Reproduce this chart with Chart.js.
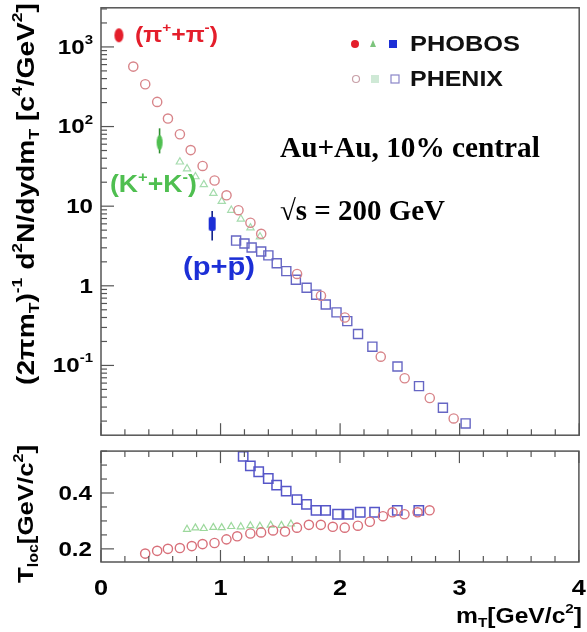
<!DOCTYPE html>
<html><head><meta charset="utf-8">
<script src="https://cdn.jsdelivr.net/npm/chart.js@4.4.0/dist/chart.umd.min.js"></script>
<style>
html,body{margin:0;padding:0;background:#fff;width:587px;height:632px;overflow:hidden}
#c1{position:absolute;left:0;top:0}
#c2{position:absolute;left:0;top:443px}
</style></head><body>
<canvas id="c1" width="587" height="443"></canvas>
<canvas id="c2" width="587" height="189"></canvas>
<script>
// ---------------- DATA ----------------
const xTickValues = [0, 1, 2, 3, 4];
const upperTickValues = [1000, 100, 10, 1, 0.1];
const lowerTickValues = [0.2, 0.4];

// upper panel: (2 pi mT)^-1 d2N/dydmT
const pionPhenixMt    = [0.27,0.37,0.47,0.56,0.66,0.75,0.85,0.95,1.05,1.15,1.25,1.34,1.64,1.84,2.04,2.34,2.54,2.75,2.95];
const pionPhenixYield = [566,340,204,126,80,50.6,32,21,13.7,8.9,6.2,4.5,1.41,0.75,0.40,0.129,0.069,0.039,0.0216];
const kaonPhenixMt    = [0.66,0.72,0.79,0.86,0.94,1.01,1.09,1.17,1.25,1.33];
const kaonPhenixYield = [36,29.5,23.5,18.7,14.5,11.5,8.9,6.9,5.35,4.14];
const protonPhenixMt    = [1.13,1.20,1.26,1.34,1.40,1.47,1.55,1.63,1.72,1.80,1.88,1.97,2.06,2.15,2.27,2.48,2.66,2.86,3.05];
const protonPhenixYield = [3.70,3.40,3.03,2.70,2.41,1.92,1.53,1.19,0.945,0.774,0.582,0.464,0.360,0.248,0.172,0.097,0.055,0.0294,0.0187];

const phobosMt      = [0.15, 0.49, 0.93];      // pi, K, p
const phobosYield   = [1400, 63, 6.0];
const phobosErrLow  = [1250, 46, 3.7];
const phobosErrHigh = [1600, 95, 8.7];

// lower panel: T_loc
const tlocPionMt = [0.37,0.47,0.56,0.66,0.76,0.85,0.95,1.05,1.14,1.25,1.34,1.44,1.54,1.64,1.74,1.84,1.94,2.04,2.15,2.25,2.36,2.44,2.54,2.65,2.75];
const tlocPion   = [0.183,0.193,0.200,0.203,0.210,0.217,0.221,0.234,0.245,0.255,0.259,0.266,0.262,0.276,0.286,0.286,0.279,0.276,0.283,0.297,0.317,0.331,0.324,0.331,0.338];
const tlocKaonMt = [0.72,0.79,0.86,0.94,1.01,1.09,1.17,1.25,1.33,1.42,1.51,1.59];
const tlocKaon   = [0.270,0.275,0.273,0.277,0.276,0.280,0.279,0.283,0.281,0.285,0.284,0.289];
const tlocProtonMt = [1.19,1.25,1.32,1.40,1.47,1.55,1.64,1.72,1.80,1.88,1.98,2.07,2.17,2.29,2.48,2.66];
const tlocProton   = [0.531,0.497,0.476,0.452,0.428,0.407,0.376,0.359,0.338,0.338,0.324,0.324,0.331,0.331,0.338,0.338];

// ---------------- STYLE ----------------
const SANS = '"Liberation Sans", Arial, sans-serif';
const SERIF = '"Liberation Serif", "Times New Roman", serif';
const HS = 1.15;
const C_PI = '#e41e2b', C_K = '#4fbf50', C_P = '#1c2fd6';
const C_PI_O = '#d8858a', C_K_O = '#a6dcae', C_P_O = '#6666c4';
const FRAME = '#555';

const pts = (xs, ys) => xs.map((x, i) => ({x, y: ys[i]}));

function segW(ctx, segs, size, family, weight) {
  let w = 0;
  for (const s of segs) {
    const fs = (s[1] === 'sup' || s[1] === 'sub') ? size * 0.62 : size;
    ctx.font = `${weight} ${fs}px ${family}`;
    w += ctx.measureText(s[0]).width;
  }
  return w;
}
function drawRich(ctx, segs, x, y, o) {
  const size = o.size, family = o.family || SANS, weight = o.weight || 'bold';
  const hs = o.hscale || HS;
  const w = segW(ctx, segs, size, family, weight);
  ctx.save();
  ctx.translate(x, y);
  if (o.rotate) ctx.rotate(o.rotate);
  ctx.scale(hs, 1);
  let cx = o.align === 'right' ? -w : o.align === 'center' ? -w / 2 : 0;
  ctx.fillStyle = o.color || '#000';
  ctx.textBaseline = 'middle';
  ctx.textAlign = 'left';
  for (const s of segs) {
    const small = (s[1] === 'sup' || s[1] === 'sub');
    const fs = small ? size * 0.62 : size;
    const dy = s[1] === 'sup' ? -size * 0.36 : s[1] === 'sub' ? size * 0.3 : 0;
    ctx.font = `${weight} ${fs}px ${family}`;
    ctx.fillText(s[0], cx, dy);
    const sw = ctx.measureText(s[0]).width;
    if (s[1] === 'bar') {
      ctx.fillRect(cx + sw * 0.1, -size * 0.42, sw * 0.8, size * 0.1);
    }
    cx += sw;
  }
  ctx.restore();
  return w * hs;
}
function fit(ctx, segs, base, target, family, weight, hs) {
  const w = segW(ctx, segs, base, family || SANS, weight || 'bold') * (hs || HS);
  return base * target / w;
}
function tickLabelSegs(v) {
  if (v >= 100 || v < 1) return [['10', ''], [String(Math.round(Math.log10(v))), 'sup']];
  return [[String(v), '']];
}
function ellipseImg(w, h, fill) {
  const c = document.createElement('canvas'); c.width = w + 2; c.height = h + 2;
  const g = c.getContext('2d'); g.fillStyle = fill; g.beginPath();
  g.ellipse((w + 2) / 2, (h + 2) / 2, w / 2, h / 2, 0, 0, 2 * Math.PI); g.fill(); return c;
}
function rectImg(w, h, fill) {
  const c = document.createElement('canvas'); c.width = w + 2; c.height = h + 2;
  const g = c.getContext('2d'); g.fillStyle = fill; g.beginPath();
  g.roundRect(1, 1, w, h, 2); g.fill(); return c;
}

function drawXTicks(ctx, xs, yEdge, dir) {
  for (let i = 0; i <= 20; i++) {
    const v = i * 0.2, px = xs.getPixelForValue(v);
    const len = (i % 5 === 0) ? 12 : 6;
    ctx.beginPath(); ctx.moveTo(px, yEdge); ctx.lineTo(px, yEdge + dir * len); ctx.stroke();
  }
}

// ---------------- UPPER CHART ----------------
const upperPlugin = {
  id: 'upperDeco',
  beforeDatasetsDraw(chart) {
    const ctx = chart.ctx, xs = chart.scales.x, ys = chart.scales.y;
    const cols = ['#b01822', '#2f8f30', '#10208a'];
    ctx.save(); ctx.lineWidth = 1.6;
    phobosMt.forEach((m, i) => {
      ctx.strokeStyle = cols[i];
      const px = xs.getPixelForValue(m);
      ctx.beginPath();
      ctx.moveTo(px, ys.getPixelForValue(phobosErrLow[i]));
      ctx.lineTo(px, ys.getPixelForValue(phobosErrHigh[i]));
      ctx.stroke();
    });
    ctx.restore();
  },
  afterDraw(chart) {
    const ctx = chart.ctx, a = chart.chartArea, xs = chart.scales.x, ys = chart.scales.y;
    ctx.save();
    // frame
    ctx.strokeStyle = FRAME; ctx.lineWidth = 1.5;
    ctx.strokeRect(a.left, a.top, a.right - a.left, a.bottom - a.top);
    // log ticks on left
    ctx.lineWidth = 1.2;
    for (let e = -2; e <= 3; e++) {
      for (let m = 1; m <= 9; m++) {
        const v = m * Math.pow(10, e);
        if (v < ys.min || v > ys.max) continue;
        const py = ys.getPixelForValue(v);
        const len = m === 1 ? 13 : 6;
        ctx.beginPath(); ctx.moveTo(a.left, py); ctx.lineTo(a.left + len, py); ctx.stroke();
      }
    }
    drawXTicks(ctx, xs, a.bottom, -1);
    // tick labels
    upperTickValues.forEach(v => {
      drawRich(ctx, tickLabelSegs(v), 93, ys.getPixelForValue(v) + 1, {size: 21, align: 'right'});
    });
    // y title
    const ySegs = [['(2πm', ''], ['T', 'sub'], [')', ''], ['-1', 'sup'], [' d', ''], ['2', 'sup'], ['N/dydm', ''], ['T', 'sub'], [' [c', ''], ['4', 'sup'], ['/GeV', ''], ['2', 'sup'], [']', '']];
    const ts = fit(ctx, ySegs, 20, 382);
    drawRich(ctx, ySegs, 27, 194, {size: ts, align: 'center', rotate: -Math.PI / 2});
    // particle labels
    const piSegs = [['(π', ''], ['+', 'sup'], ['+π', ''], ['-', 'sup'], [')', '']];
    drawRich(ctx, piSegs, 135, 36, {size: fit(ctx, piSegs, 20, 83), color: C_PI});
    const kSegs = [['(K', ''], ['+', 'sup'], ['+K', ''], ['-', 'sup'], [')', '']];
    drawRich(ctx, kSegs, 110, 186, {size: fit(ctx, kSegs, 20, 87), color: C_K});
    const pSegs = [['(p+', ''], ['p', 'bar'], [')', '']];
    drawRich(ctx, pSegs, 183, 268, {size: fit(ctx, pSegs, 20, 72), color: C_P});
    // legend
    ctx.fillStyle = C_PI; ctx.beginPath(); ctx.arc(355, 44, 4, 0, 2 * Math.PI); ctx.fill();
    ctx.fillStyle = '#7cc47c'; ctx.beginPath(); ctx.moveTo(373, 40); ctx.lineTo(376, 47); ctx.lineTo(370, 47); ctx.closePath(); ctx.fill();
    ctx.fillStyle = C_P; ctx.fillRect(389, 40, 8, 8);
    ctx.strokeStyle = '#c8a0a8'; ctx.lineWidth = 1.2; ctx.beginPath(); ctx.arc(356, 79, 3.5, 0, 2 * Math.PI); ctx.stroke();
    ctx.fillStyle = '#cfe9d6'; ctx.fillRect(371, 75, 8, 8);
    ctx.strokeStyle = '#8a86c8'; ctx.strokeRect(391, 75, 8, 8);
    const phobos = [['PHOBOS', '']], phenix = [['PHENIX', '']];
    drawRich(ctx, phobos, 410, 45, {size: fit(ctx, phobos, 20, 110), color: '#111'});
    drawRich(ctx, phenix, 410, 80, {size: fit(ctx, phenix, 20, 93), color: '#111'});
    // annotation
    const au = [['Au+Au, 10% central', '']];
    drawRich(ctx, au, 280, 149, {size: fit(ctx, au, 20, 260, SERIF, 'bold', 1.0), family: SERIF, hscale: 1.0});
    const rs = [['√s = 200 GeV', '']];
    drawRich(ctx, rs, 280, 213, {size: fit(ctx, rs, 20, 165, SERIF, 'bold', 1.0), family: SERIF, hscale: 1.0});
    ctx.restore();
  }
};

new Chart(document.getElementById('c1'), {
  type: 'scatter',
  data: {
    datasets: [
      {label: 'PHENIX pi', data: pts(pionPhenixMt, pionPhenixYield), pointStyle: 'circle', pointRadius: 4.6, borderColor: C_PI_O, backgroundColor: 'rgba(0,0,0,0)', borderWidth: 1.4},
      {label: 'PHENIX K', data: pts(kaonPhenixMt, kaonPhenixYield), pointStyle: 'triangle', pointRadius: 4.2, borderColor: C_K_O, backgroundColor: 'rgba(0,0,0,0)', borderWidth: 1.2},
      {label: 'PHENIX p', data: pts(protonPhenixMt, protonPhenixYield), pointStyle: 'rect', pointRadius: 6.4, borderColor: C_P_O, backgroundColor: 'rgba(0,0,0,0)', borderWidth: 1.4},
      {label: 'PHOBOS pi', data: [{x: phobosMt[0], y: phobosYield[0]}], pointStyle: ellipseImg(9, 14, C_PI)},
      {label: 'PHOBOS K', data: [{x: phobosMt[1], y: phobosYield[1]}], pointStyle: ellipseImg(6, 15, C_K)},
      {label: 'PHOBOS p', data: [{x: phobosMt[2], y: phobosYield[2]}], pointStyle: rectImg(7, 14, C_P)}
    ]
  },
  options: {
    responsive: false, animation: false, devicePixelRatio: 1,
    layout: {padding: {left: 101, right: 4, top: 5, bottom: 2}},
    plugins: {legend: {display: false}, tooltip: {enabled: false}},
    scales: {
      x: {type: 'linear', min: 0, max: 4, display: false},
      y: {type: 'logarithmic', min: 0.0133, max: 3100, display: false}
    }
  },
  plugins: [upperPlugin]
});

// ---------------- LOWER CHART ----------------
const lowerPlugin = {
  id: 'lowerDeco',
  afterDraw(chart) {
    const ctx = chart.ctx, a = chart.chartArea, xs = chart.scales.x, ys = chart.scales.y;
    ctx.save();
    ctx.strokeStyle = FRAME; ctx.lineWidth = 1.5;
    ctx.strokeRect(a.left, a.top, a.right - a.left, a.bottom - a.top);
    ctx.lineWidth = 1.2;
    for (let i = 0; i <= 12; i++) {
      const v = 0.0 + i * 0.05;
      if (v < ys.min || v > ys.max) continue;
      const py = ys.getPixelForValue(v);
      const major = Math.abs(v * 10 % 2) < 1e-6 || Math.abs(v * 10 % 2 - 2) < 1e-6;
      const len = major ? 13 : 6;
      ctx.beginPath(); ctx.moveTo(a.left, py); ctx.lineTo(a.left + len, py); ctx.stroke();
    }
    drawXTicks(ctx, xs, a.bottom, -1);
    drawXTicks(ctx, xs, a.top, 1);
    lowerTickValues.forEach(v => {
      drawRich(ctx, [[v.toFixed(1), '']], 92, ys.getPixelForValue(v) + 1, {size: 21, align: 'right'});
    });
    xTickValues.forEach(v => {
      drawRich(ctx, [[String(v), '']], xs.getPixelForValue(v), 146, {size: 22, align: 'center'});
    });
    const yt = [['T', ''], ['loc', 'sub'], ['[GeV/c', ''], ['2', 'sup'], [']', '']];
    drawRich(ctx, yt, 27, 71, {size: fit(ctx, yt, 20, 138), align: 'center', rotate: -Math.PI / 2});
    const xt = [['m', ''], ['T', 'sub'], ['[GeV/c', ''], ['2', 'sup'], [']', '']];
    drawRich(ctx, xt, 582, 174, {size: fit(ctx, xt, 20, 126), align: 'right'});
    ctx.restore();
  }
};

new Chart(document.getElementById('c2'), {
  type: 'scatter',
  data: {
    datasets: [
      {label: 'pi', data: pts(tlocPionMt, tlocPion), pointStyle: 'circle', pointRadius: 4.6, borderColor: '#d8707a', backgroundColor: 'rgba(0,0,0,0)', borderWidth: 1.4},
      {label: 'K', data: pts(tlocKaonMt, tlocKaon), pointStyle: 'triangle', pointRadius: 4, borderColor: '#9cd89c', backgroundColor: 'rgba(0,0,0,0)', borderWidth: 1.2},
      {label: 'p', data: pts(tlocProtonMt, tlocProton), pointStyle: 'rect', pointRadius: 6.6, borderColor: '#5656c8', backgroundColor: 'rgba(0,0,0,0)', borderWidth: 1.5}
    ]
  },
  options: {
    responsive: false, animation: false, devicePixelRatio: 1,
    layout: {padding: {left: 101, right: 4, top: 3, bottom: 70}},
    plugins: {legend: {display: false}, tooltip: {enabled: false}},
    scales: {
      x: {type: 'linear', min: 0, max: 4, display: false},
      y: {type: 'linear', min: 0.153, max: 0.55, display: false}
    }
  },
  plugins: [lowerPlugin]
});
</script>
</body></html>
